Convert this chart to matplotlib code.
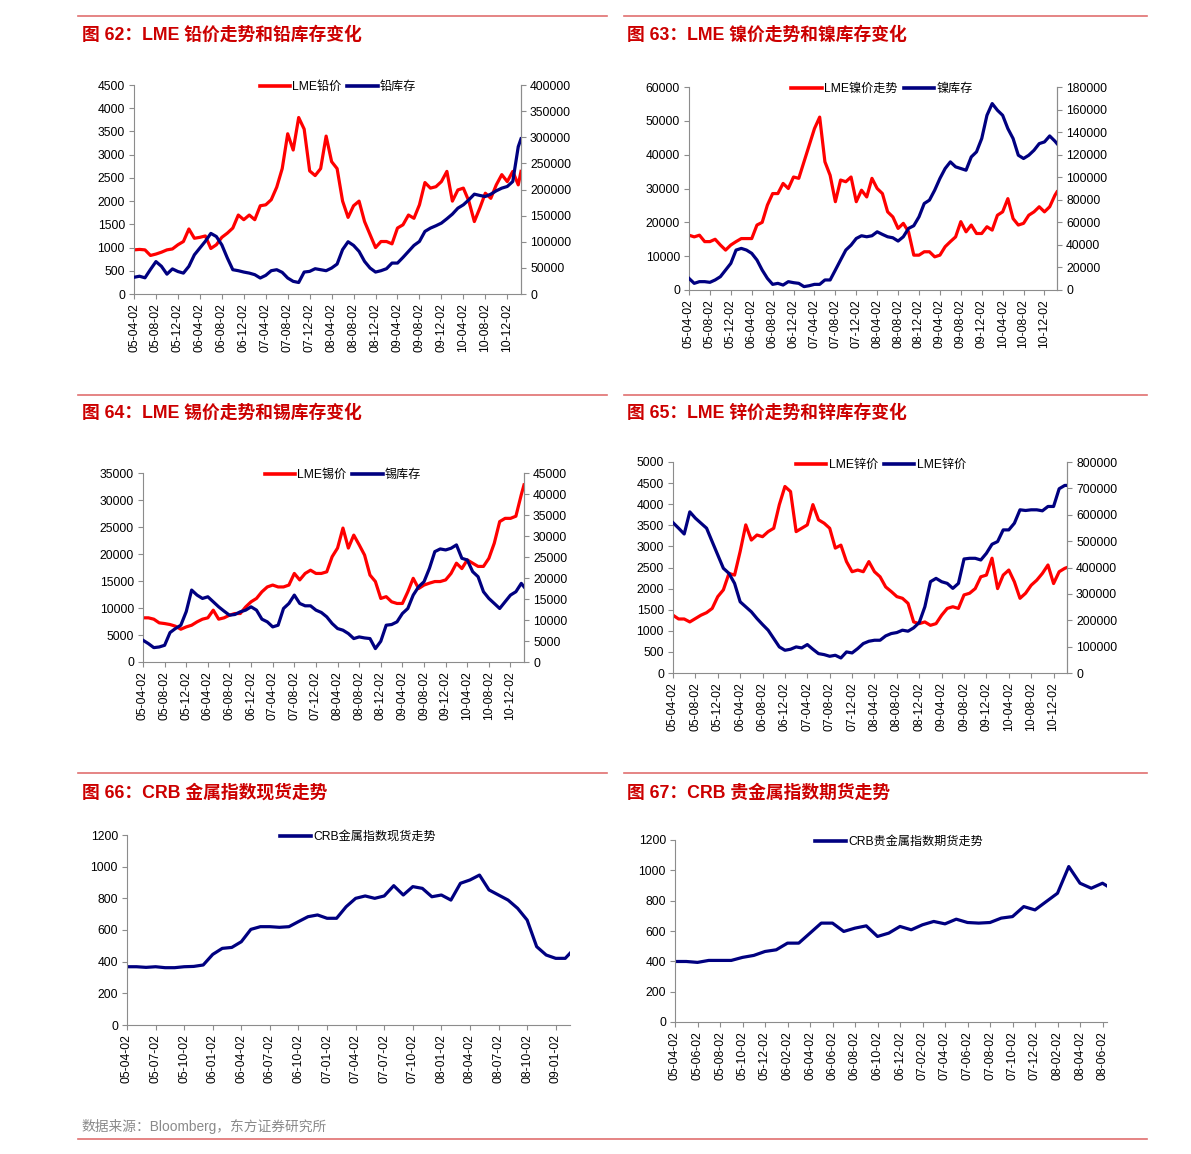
import numpy as np
import matplotlib
matplotlib.use('Agg')
import matplotlib.pyplot as plt
from matplotlib.lines import Line2D

plt.rcParams['font.family'] = ['Liberation Sans', 'Noto Sans CJK SC', 'DejaVu Sans']

# ---------------- data (monthly readings, last value = right edge) ----------------
ticks4 = ['05-04-02', '05-08-02', '05-12-02', '06-04-02', '06-08-02', '06-12-02',
          '07-04-02', '07-08-02', '07-12-02', '08-04-02', '08-08-02', '08-12-02',
          '09-04-02', '09-08-02', '09-12-02', '10-04-02', '10-08-02', '10-12-02']
ticks66 = ['05-04-02', '05-07-02', '05-10-02', '06-01-02', '06-04-02', '06-07-02',
           '06-10-02', '07-01-02', '07-04-02', '07-07-02', '07-10-02', '08-01-02',
           '08-04-02', '08-07-02', '08-10-02', '09-01-02']
ticks67 = ['05-04-02', '05-06-02', '05-08-02', '05-10-02', '05-12-02', '06-02-02',
           '06-04-02', '06-06-02', '06-08-02', '06-10-02', '06-12-02', '07-02-02',
           '07-04-02', '07-06-02', '07-08-02', '07-10-02', '07-12-02', '08-02-02',
           '08-04-02', '08-06-02']

lead_price = [950, 960, 950, 830, 860, 900, 950, 970, 1060, 1130,
              1400, 1200, 1220, 1250, 980, 1060, 1220, 1310, 1420, 1700,
              1600, 1700, 1600, 1900, 1920, 2030, 2300, 2700, 3450, 3100,
              3800, 3550, 2650, 2550, 2700, 3400, 2850, 2700, 2000, 1650,
              1900, 2000, 1560, 1280, 1000, 1130, 1130, 1080, 1420, 1490,
              1700, 1630, 1920, 2400, 2280, 2310, 2420, 2640, 2000, 2240,
              2280, 2000, 1560, 1850, 2170, 2060, 2350, 2570, 2420, 2640,
              2350, 2640]
lead_stock = [32000, 34000, 31000, 47000, 62000, 53000, 38000, 48000, 43000, 40000,
              53000, 75000, 88000, 101000, 116000, 110000, 94000, 69000, 46500, 44600,
              42000, 40000, 37000, 30600, 35700, 44600, 46500, 41400, 30600, 24200,
              22000, 42000, 43300, 48400, 46500, 44600, 49700, 57300, 85000, 100000,
              93000, 81500, 62400, 49700, 42000, 44600, 48400, 59200, 59200, 70000,
              81500, 93000, 100600, 119800, 126100, 130600, 135700, 144000, 152900, 164300,
              170700, 180300, 191100, 188600, 186600, 191100, 197500, 202600, 205800, 215300,
              282000, 297000]

nickel_price = [16200, 15700, 16200, 14300, 14300, 15000, 13300, 11800, 13300, 14300,
                15200, 15200, 15200, 19200, 20000, 25100, 28500, 28500, 31500, 30000,
                33400, 33000, 37900, 42800, 47700, 51100, 37900, 33900, 26100, 32500,
                32000, 33400, 26100, 29500, 27500, 33000, 30000, 28500, 23100, 21600,
                18200, 19700, 17200, 10300, 10300, 11300, 11300, 9800, 10300, 12800,
                14300, 15700, 20200, 17200, 19200, 16700, 16700, 18700, 17700, 22100,
                23100, 27000, 21100, 19200, 19700, 22100, 23100, 24600, 23100, 24600,
                28000, 29000]
nickel_stock = [10300, 5900, 7400, 7400, 6800, 8900, 11800, 17700, 23600, 35400,
                36900, 35400, 32500, 26600, 17700, 10300, 5000, 5900, 4400, 7400,
                6500, 5900, 3000, 3800, 5000, 5000, 8900, 8900, 17700, 26600,
                35400, 39800, 45700, 48100, 47200, 48100, 51600, 49300, 47200, 46300,
                43400, 47200, 54600, 57000, 64900, 76700, 79700, 88500, 98900, 107700,
                113600, 109200, 107700, 106200, 118000, 122500, 134300, 154900, 165300, 159400,
                154900, 143100, 134300, 119500, 116600, 119500, 123900, 129800, 131300, 136600,
                132000, 129800]

tin_price = [8180, 8180, 7930, 7250, 7120, 6940, 6630, 6070, 6500, 6810,
             7430, 7930, 8180, 9600, 7930, 8180, 8670, 8980, 8980, 10200,
             11150, 11770, 13000, 13900, 14250, 13900, 13900, 14250, 16400, 15200,
             16400, 17000, 16400, 16400, 16700, 19500, 21100, 24800, 21100, 23500,
             21700, 19800, 16100, 14900, 11770, 12100, 11150, 10840, 10840, 13000,
             15500, 13600, 14250, 14600, 14900, 14900, 15200, 16400, 18300, 17300,
             18900, 18300, 17700, 17700, 19200, 22000, 26000, 26600, 26600, 27000,
             31000, 32800]
tin_stock = [5180, 4380, 3420, 3580, 3980, 7010, 7970, 8760, 12000, 17130,
             15930, 15130, 15530, 14340, 13140, 12110, 11150, 11310, 11950, 12350,
             13140, 12350, 10200, 9560, 8360, 8760, 12740, 13940, 15930, 13940,
             13380, 13380, 12350, 11790, 10750, 9160, 7970, 7570, 6770, 5580,
             5970, 5730, 5580, 3190, 4940, 8760, 8920, 9560, 11550, 12740,
             15930, 17920, 19120, 22300, 26280, 26920, 26680, 27080, 27880, 24690,
             24290, 21510, 20310, 16730, 15130, 13940, 12740, 14340, 15930, 16730,
             18720, 17900]

zinc_price = [1370, 1280, 1280, 1210, 1290, 1370, 1430, 1530, 1810, 1970,
              2360, 2320, 2880, 3510, 3150, 3270, 3230, 3350, 3430, 3990,
              4420, 4300, 3350, 3430, 3510, 3990, 3630, 3550, 3430, 2960,
              3030, 2640, 2400, 2440, 2400, 2640, 2400, 2280, 2040, 1930,
              1810, 1770, 1650, 1210, 1170, 1210, 1130, 1170, 1370, 1530,
              1570, 1530, 1850, 1890, 2000, 2280, 2320, 2720, 2000, 2320,
              2440, 2160, 1770, 1890, 2080, 2200, 2360, 2560, 2120, 2400,
              2480, 2500]
zinc_stock = [570000, 549000, 527000, 611000, 587000, 568000, 549000, 498000, 447500, 397000,
              377800, 339800, 270000, 251000, 232000, 206600, 183800, 162300, 130600, 98900,
              86200, 90000, 98900, 95100, 107800, 90000, 73500, 69700, 63400, 67200,
              57000, 79900, 76100, 92500, 111600, 120400, 124200, 124200, 140700, 149600,
              153400, 162300, 158500, 171200, 191400, 251000, 346100, 358800, 346100, 339800,
              320800, 339800, 432300, 434900, 434900, 428500, 453900, 488100, 498300, 542600,
              542600, 568000, 618700, 616200, 618700, 618700, 614900, 631400, 631400, 698600,
              711200, 711200]

crb_metal_spot = [368, 368, 364, 368, 362, 362, 368, 370, 379, 446,
                  484, 490, 526, 604, 621, 621, 617, 621, 653, 684,
                  695, 674, 674, 747, 800, 815, 800, 815, 880, 821,
                  874, 863, 810, 821, 789, 895, 916, 947, 853, 821,
                  789, 737, 663, 495, 442, 421, 421, 453]
crb_precious_fut = [399, 399, 393, 406, 406, 406, 426, 439, 465, 476,
                    520, 520, 586, 652, 652, 597, 619, 634, 564, 586,
                    630, 608, 641, 663, 647, 678, 656, 652, 656, 685,
                    695, 761, 739, 794, 849, 1025, 915, 882, 915, 897]

# ---------------- styling ----------------
W, H = 1191, 1154
RED = '#FF0000'
NAVY = '#000080'
TITLE_RED = '#CC0000'
RULE = '#E07070'
SPINE = '#8C8C8C'
FS = 8.7
LW = 2.3

fig = plt.figure(figsize=(W / 100, H / 100), dpi=100)
fig.patch.set_facecolor('white')


def px_axes(l, t, r, b):
    return fig.add_axes([l / W, 1 - b / H, (r - l) / W, (b - t) / H])


def style(ax, right=False):
    ax.spines['top'].set_visible(False)
    for s in ['left', 'bottom', 'right']:
        ax.spines[s].set_color(SPINE)
        ax.spines[s].set_linewidth(0.8)
    ax.tick_params(axis='both', labelsize=FS, length=3.5, width=0.8,
                   color=SPINE, pad=3, direction='out')
    if not right:
        ax.spines['right'].set_visible(False)


def xpos(vals, x_end):
    n = len(vals)
    return np.r_[np.arange(n - 1), x_end]


def make_panel(rect, x_end, tick_step, tick_labels, left_vals, left_lim, left_step,
               right_vals=None, right_lim=None, right_step=None, left_color=RED):
    ax = px_axes(*rect)
    style(ax, right=right_vals is not None)
    ax.plot(xpos(left_vals, x_end), left_vals, color=left_color, lw=LW,
            solid_joinstyle='round')
    ax.set_xlim(0, x_end)
    ax.set_ylim(*left_lim)
    ax.set_yticks(np.arange(left_lim[0], left_lim[1] + 1, left_step))
    ax.set_xticks(np.arange(len(tick_labels)) * tick_step)
    ax.set_xticklabels(tick_labels, rotation=90)
    if right_vals is not None:
        ax2 = ax.twinx()
        style(ax2, right=True)
        ax2.spines['left'].set_visible(False)
        ax2.spines['bottom'].set_visible(False)
        ax2.plot(xpos(right_vals, x_end), right_vals, color=NAVY, lw=LW,
                 solid_joinstyle='round')
        ax2.set_ylim(*right_lim)
        ax2.set_yticks(np.arange(right_lim[0], right_lim[1] + 1, right_step))
        ax2.set_xlim(0, x_end)
    return ax


def legend(items, cx, cy):
    handles = [Line2D([], [], color=c, lw=2.6) for c, _ in items]
    labels = [t for _, t in items]
    fig.legend(handles, labels, loc='center', bbox_to_anchor=(cx / W, 1 - cy / H),
               bbox_transform=fig.transFigure, ncol=len(items), frameon=False,
               fontsize=FS, handlelength=2.5, handletextpad=0.2, columnspacing=0.5,
               borderpad=0, borderaxespad=0)


def title(x, y, text):
    fig.text(x / W, 1 - y / H, text, color=TITLE_RED, fontsize=12.8,
             fontweight='bold', ha='left', va='center')


def rule(x0, x1, y):
    fig.add_artist(Line2D([x0 / W, x1 / W], [1 - y / H, 1 - y / H],
                          transform=fig.transFigure, color=RULE, lw=1.2))


# rules
for y in (16, 395, 773):
    rule(78, 607, y)
    rule(624, 1147, y)
rule(78, 1147, 1139)

# titles
title(82, 35, '图 62：LME 铅价走势和铅库存变化')
title(627, 35, '图 63：LME 镍价走势和镍库存变化')
title(82, 413, '图 64：LME 锡价走势和锡库存变化')
title(627, 413, '图 65：LME 锌价走势和锌库存变化')
title(82, 793, '图 66：CRB 金属指数现货走势')
title(627, 793, '图 67：CRB 贵金属指数期货走势')

# panels
make_panel((134, 85, 521, 294), 70.5, 4, ticks4, lead_price, (0, 4500), 500,
           lead_stock, (0, 400000), 50000)
legend([(RED, 'LME铅价'), (NAVY, '铅库存')], 338, 87)

make_panel((689, 87, 1057, 290), 70.4, 4, ticks4, nickel_price, (0, 60000), 10000,
           nickel_stock, (0, 180000), 20000)
legend([(RED, 'LME镍价走势'), (NAVY, '镍库存')], 882, 89)

make_panel((143, 473, 524, 662), 70.5, 4, ticks4, tin_price, (0, 35000), 5000,
           tin_stock, (0, 45000), 5000)
legend([(RED, 'LME锡价'), (NAVY, '锡库存')], 343, 475)

make_panel((673, 462, 1067, 673), 70.4, 4, ticks4, zinc_price, (0, 5000), 500,
           zinc_stock, (0, 800000), 100000)
legend([(RED, 'LME锌价'), (NAVY, 'LME锌价')], 881, 465)

make_panel((127, 835, 570, 1025), 46.5, 3, ticks66, crb_metal_spot, (0, 1200), 200,
           left_color=NAVY)
legend([(NAVY, 'CRB金属指数现货走势')], 358, 837)

make_panel((675, 840, 1107, 1022), 38.4, 2, ticks67, crb_precious_fut, (0, 1200), 200,
           left_color=NAVY)
legend([(NAVY, 'CRB贵金属指数期货走势')], 899, 842)

fig.text(82 / W, 1 - 1126 / H, '数据来源：Bloomberg，东方证券研究所', color='#8A8A8A',
         fontsize=9.9, ha='left', va='center')

fig.savefig('out.png', dpi=100, facecolor='white')
